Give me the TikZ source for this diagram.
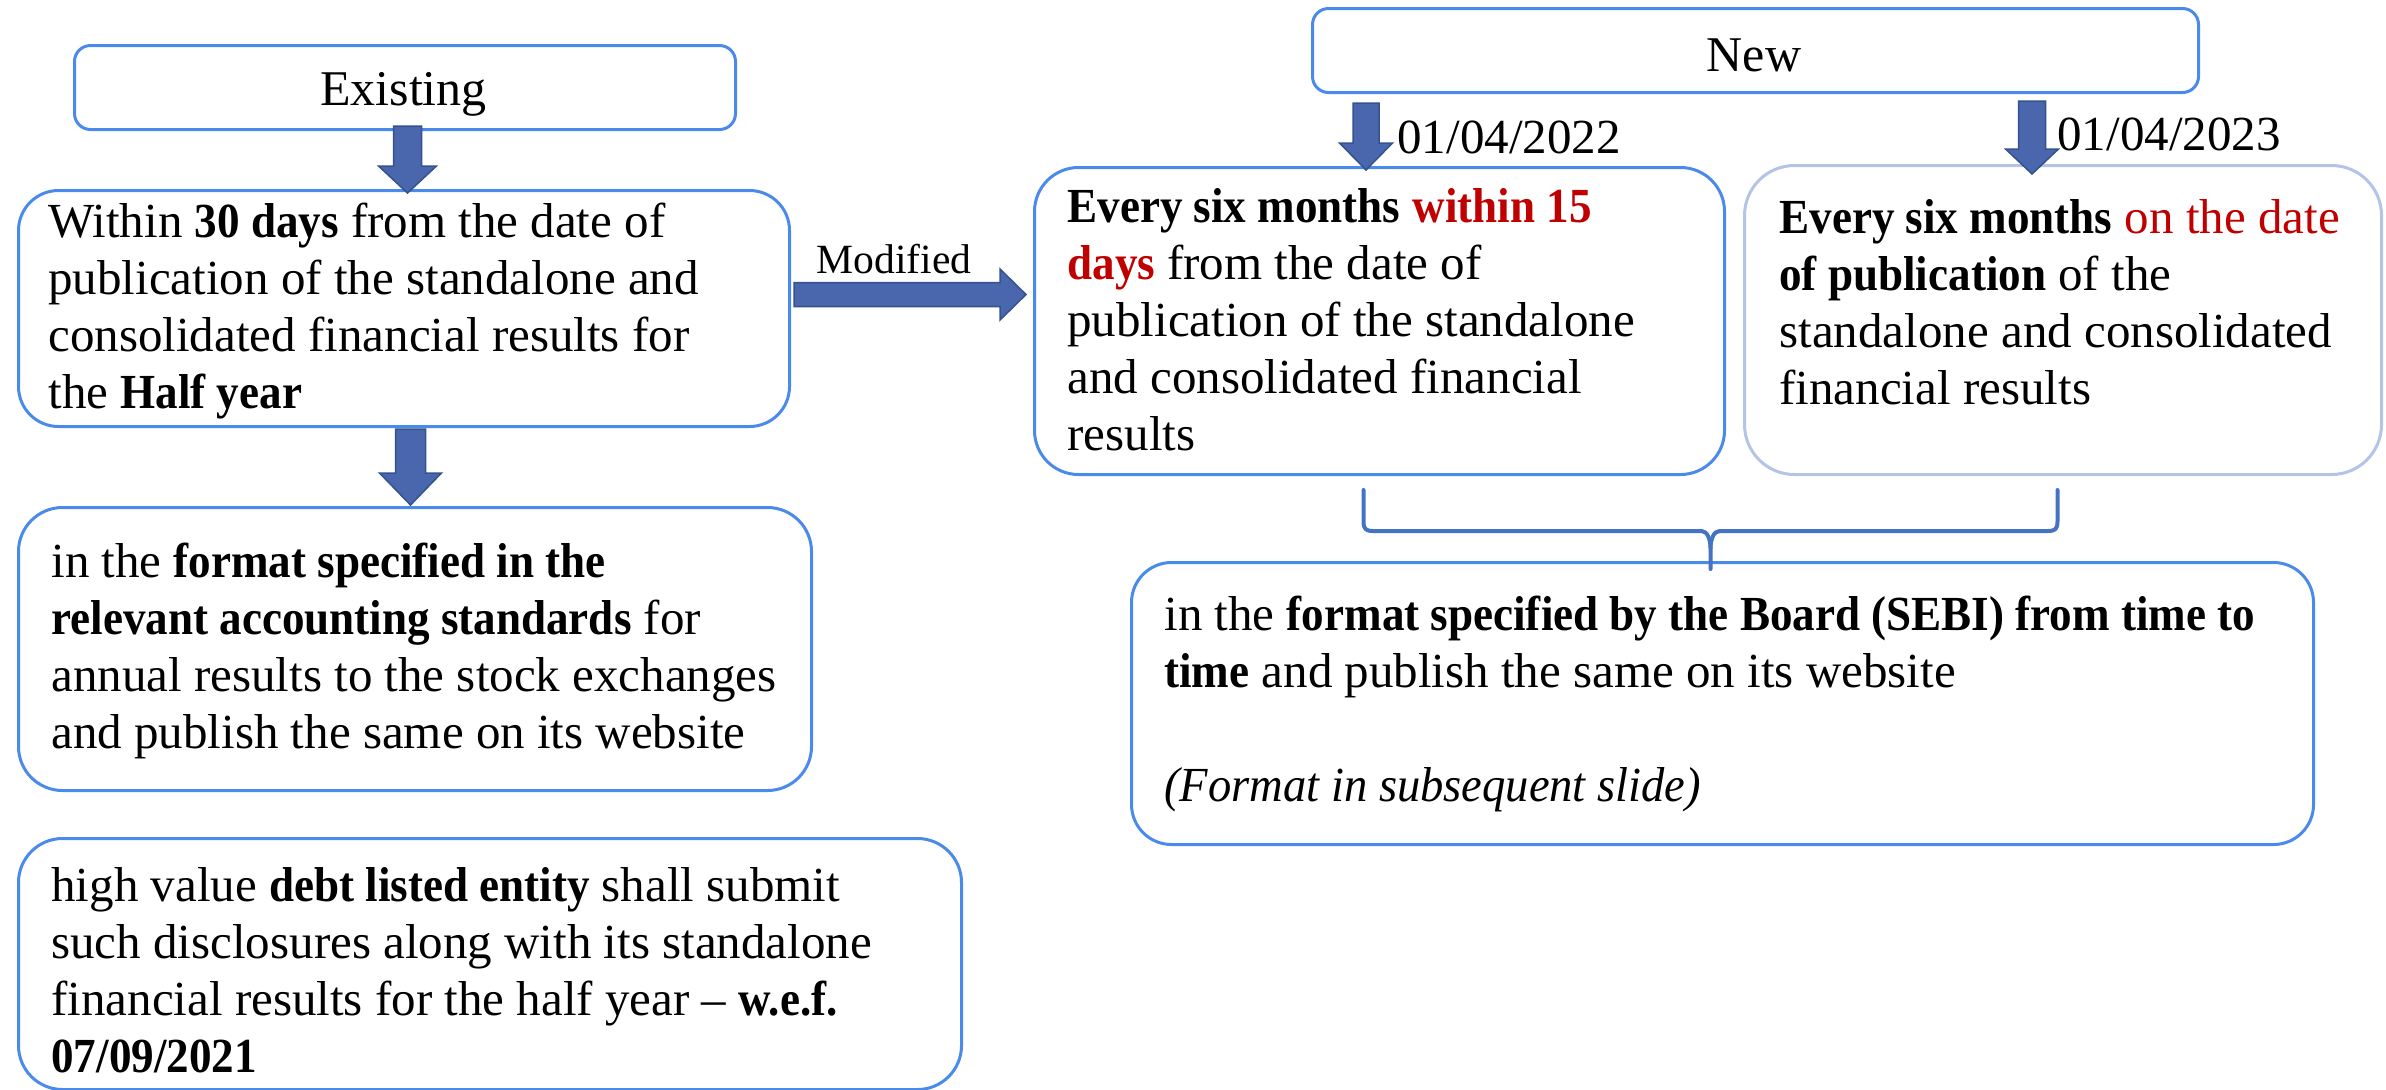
\documentclass[tikz,border=0pt]{standalone}
\usepackage{fontspec}
\setmainfont{Liberation Serif}[BoldFeatures={FakeStretch=0.92},ItalicFeatures={FakeStretch=0.95}]
\usetikzlibrary{calc}

\definecolor{boxblue}{HTML}{4A8AEB}
\definecolor{paleblue}{HTML}{B4C4E6}
\definecolor{arrowfill}{HTML}{4A66AC}
\definecolor{arrowline}{HTML}{34528F}
\definecolor{bracecol}{HTML}{4472C4}
\definecolor{redtxt}{HTML}{C00000}

% downward block arrow: #1 start, #2 tip, #3 shaft half width, #4 head half width, #5 head length
\newcommand\downblock[5]{%
  \draw[blockarrow] let \p1=(#1), \p2=(#2) in
    (\x1-#3,\y1) -- (\x1+#3,\y1) -- (\x1+#3,\y2+#5) -- (\x1+#4,\y2+#5)
    -- (\x2,\y2) -- (\x1-#4,\y2+#5) -- (\x1-#3,\y2+#5) -- cycle;}
% rightward block arrow: same arguments
\newcommand\rightblock[5]{%
  \draw[blockarrow] let \p1=(#1), \p2=(#2) in
    (\x1,\y1+#3) -- (\x2-#5,\y1+#3) -- (\x2-#5,\y1+#4) -- (\x2,\y2)
    -- (\x2-#5,\y1-#4) -- (\x2-#5,\y1-#3) -- (\x1,\y1-#3) -- cycle;}

\newcommand\rd[1]{\textcolor{redtxt}{\textbf{#1}}}

\tikzset{
  box/.style={draw=boxblue, line width=1.5pt, anchor=north west, inner sep=0pt},
  txt/.style={anchor=north west, inner sep=0pt, align=left,
    font=\fontsize{24.5pt}{28.5pt}\selectfont},
  head/.style={anchor=base, inner sep=0pt, font=\fontsize{25pt}{30pt}\selectfont},
  blockarrow/.style={fill=arrowfill, draw=arrowline, line width=0.75pt, line join=miter},
  bracepath/.style={draw=bracecol, line width=2pt, line cap=round, line join=round}
}

\begin{document}
\begin{tikzpicture}[x=0.5pt, y=-0.5pt]
  \useasboundingbox (0,0) rectangle (2386,1089);

  % boxes
  \node[box, rounded corners=8pt, minimum width=330.5pt, minimum height=42pt] (exist) at (73,44) {};
  \node[box, rounded corners=8pt, minimum width=443pt, minimum height=42pt] (new) at (1311,7) {};
  \node[box, rounded corners=20pt, minimum width=385.5pt, minimum height=118pt] (within) at (17,189) {};
  \node[box, rounded corners=22pt, minimum width=396.5pt, minimum height=141.5pt] (format) at (17,506) {};
  \node[box, rounded corners=22pt, minimum width=471.5pt, minimum height=125.5pt] (high) at (17,837) {};
  \node[box, rounded corners=22pt, minimum width=345pt, minimum height=153.5pt] (m15) at (1033,166) {};
  \node[box, draw=paleblue, rounded corners=25pt, minimum width=318.5pt, minimum height=154.5pt] (ondate) at (1743,164) {};
  \node[box, rounded corners=20pt, minimum width=591pt, minimum height=141pt] (sebi) at (1130,561) {};

  % headings
  \node[head] (existT) at (403.5,105) {Existing};
  \node[head] (newT) at (1754,71) {New};

  % box texts
  \node[txt] (withinT) at (48,197) {\strut Within \textbf{30 days} from the date of\\
    publication of the standalone and\\
    consolidated financial results for\\
    the \textbf{Half year}};
  \node[txt] (formatT) at (51,537) {\strut in the \textbf{format specified in the}\\
    \textbf{relevant accounting standards} for\\
    annual results to the stock exchanges\\
    and publish the same on its website};
  \node[txt] (highT) at (51,861) {\strut high value \textbf{debt listed entity} shall submit\\
    such disclosures along with its standalone\\
    financial results for the half year -- \textbf{w.e.f.}\\
    \textbf{07/09/2021}};
  \node[txt] (m15T) at (1067,182) {\strut\textbf{Every six months} \rd{within 15}\\
    \rd{days} from the date of\\
    publication of the standalone\\
    and consolidated financial\\
    results};
  \node[txt] (ondateT) at (1779,193) {\strut\textbf{Every six months} \textcolor{redtxt}{on the date}\\
    \textbf{of publication} of the\\
    standalone and consolidated\\
    financial results};
  \node[txt] (sebiT) at (1164,590) {\strut in the \textbf{format specified by the Board (SEBI) from time to}\\
    \textbf{time} and publish the same on its website\\
    \strut\\
    \textit{(Format in subsequent slide)}};

  % labels beside the arrows
  \node[anchor=base, inner sep=0pt, font=\fontsize{20.8pt}{24pt}\selectfont] (modT) at (894,273) {Modified};
  \node[anchor=base west, inner sep=0pt, font=\fontsize{24.5pt}{28.5pt}\selectfont] (d22) at (1397,153) {01/04/2022};
  \node[anchor=base west, inner sep=0pt, font=\fontsize{24.5pt}{28.5pt}\selectfont] (d23) at (2057,150) {01/04/2023};

  % arrow end points
  \coordinate (a1s) at ($(exist.south)+(2.5,-5)$);
  \coordinate (a1t) at ($(a1s |- within.north)+(0,4)$);
  \coordinate (a2s) at ($(within.south)+(6.5,1)$);
  \coordinate (a2t) at ($(a2s |- format.north)+(0,-1)$);
  \coordinate (a3s) at ($(new.south west)+(55,9)$);
  \coordinate (a3t) at ($(a3s |- m15.north)+(0,4)$);
  \coordinate (a4s) at ($(new.south west)+(721,7)$);
  \coordinate (a4t) at ($(a4s |- ondate.north)+(0,10)$);
  \coordinate (a5s) at ($(within.east)+(3,-14)$);
  \coordinate (a5t) at ($(a5s -| m15.west)+(-7,0)$);

  \downblock{a1s}{a1t}{7pt}{14.5pt}{13.5pt}
  \downblock{a2s}{a2t}{7.5pt}{15.5pt}{16pt}
  \downblock{a3s}{a3t}{6.5pt}{13.25pt}{13.5pt}
  \downblock{a4s}{a4t}{6.75pt}{13.25pt}{12.5pt}
  \rightblock{a5s}{a5t}{6pt}{12.75pt}{13pt}

  % brace joining the two new rules to the common format box
  \coordinate (brL) at ($(m15.south)+(-16,14)$);
  \coordinate (brR) at ($(ondate.south)+(-5.5,14)$);
  \coordinate (brT) at ($(sebi.north)+(-12,8)$);
  \draw[bracepath] (brL) -- ++(0,31) .. controls ++(0,8) and ++(-8,0) .. ++(10,10)
    -- ($(brT |- brL)+(-9,41)$) .. controls ++(6,0) and ++(0,-8) .. ($(brT |- brL)+(0,58)$) -- (brT);
  \draw[bracepath] (brR) -- ++(0,31) .. controls ++(0,8) and ++(8,0) .. ++(-10,10)
    -- ($(brT |- brR)+(9,41)$) .. controls ++(-6,0) and ++(0,-8) .. ($(brT |- brR)+(0,58)$);
\end{tikzpicture}
\end{document}
